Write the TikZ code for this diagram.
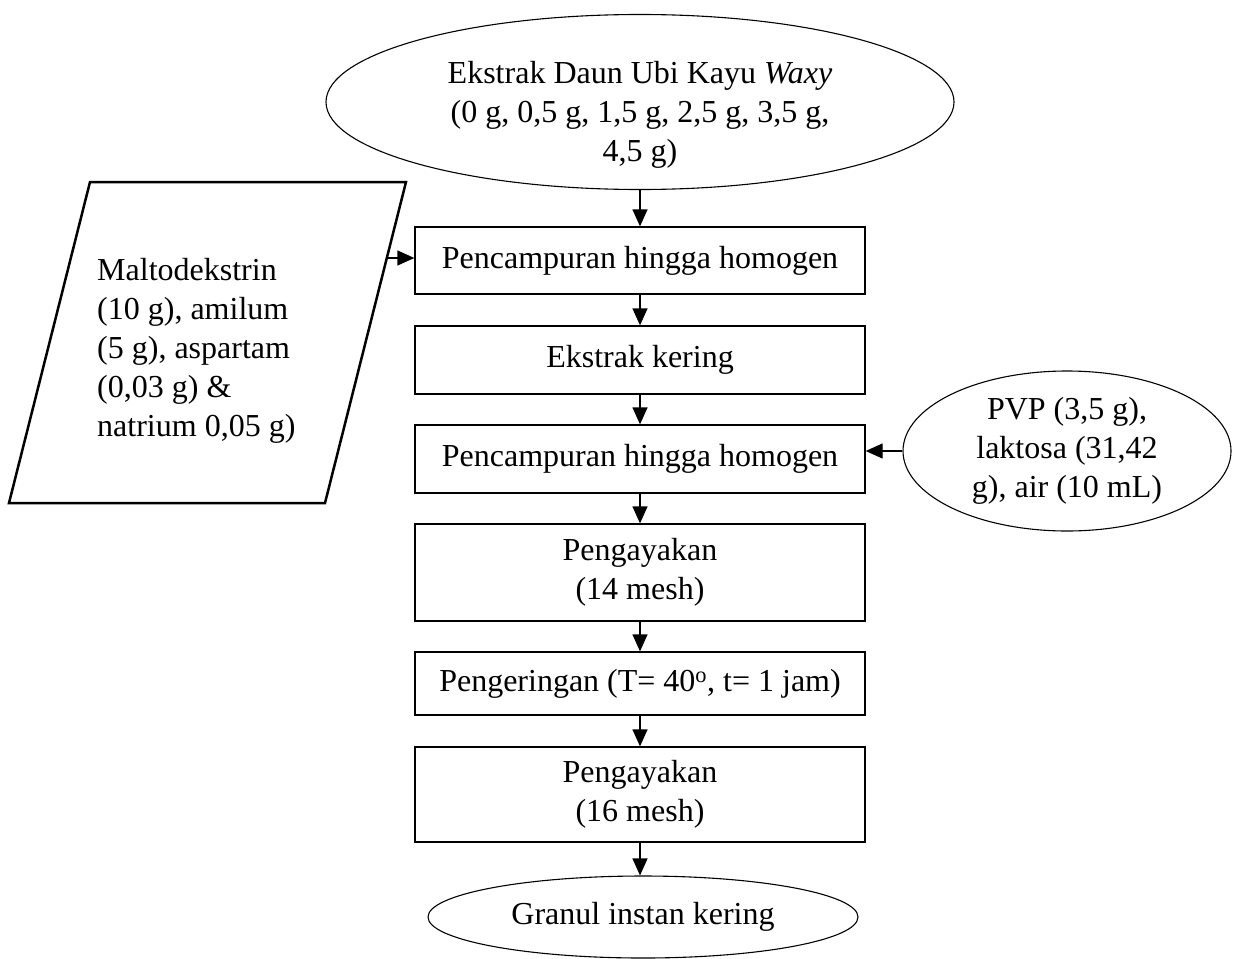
\documentclass[tikz,border=0pt]{standalone}
\usepackage{fontspec}
\setmainfont{Liberation Serif}
\usetikzlibrary{arrows.meta, shapes.geometric, calc}

\begin{document}
\begin{tikzpicture}[x=1pt, y=-1pt, font=\fontsize{32}{39}\selectfont,
    kotak/.style={rectangle, draw, line width=1.3pt, minimum width=450pt, inner sep=0pt, align=center},
    elips/.style={ellipse, draw, line width=1.1pt, inner sep=0pt, align=center},
    panah/.style={-{Triangle[length=17pt, width=15pt]}, line width=1.3pt}]
  \useasboundingbox (0,0) rectangle (1238,958);

  % alur utama
  \node[elips, minimum width=628pt, minimum height=175pt] (ekstrak) at (640,102) {};
  \node[align=center, inner sep=0pt] (ekstraktxt) at (640,115) {Ekstrak Daun Ubi Kayu \textit{Waxy}\\(0 g, 0,5 g, 1,5 g, 2,5 g, 3,5 g,\\4,5 g)};
  \node[kotak, minimum height=67pt] (campur1) at (640,260.5) {Pencampuran hingga homogen};
  \node[kotak, minimum height=68pt] (kering) at (640,360) {Ekstrak kering};
  \node[kotak, minimum height=68pt] (campur2) at (640,459) {Pencampuran hingga homogen};
  \node[kotak, minimum height=97pt] (ayak1) at (640,572.5) {Pengayakan\\(14 mesh)};
  \node[kotak, minimum height=63pt] (oven) at (640,683.5) {Pengeringan (T= 40\textsuperscript{o}, t= 1 jam)};
  \node[kotak, minimum height=95pt] (ayak2) at (640,794.5) {Pengayakan\\(16 mesh)};
  \node[elips, minimum width=430pt, minimum height=82pt] (granul) at (643,917) {Granul instan kering};

  % bahan tambahan
  \draw[line width=2.5pt] (90,182) -- (406,182) -- (325,503) -- (9,503) -- cycle;
  \node[anchor=north west, inner sep=0pt, align=left] (bahan) at (97,258) {Maltodekstrin\\(10 g), amilum\\(5 g), aspartam\\(0,03 g) \&\\natrium 0,05 g)};
  \coordinate (bahanout) at (387,258);
  \node[elips, minimum width=328pt, minimum height=160pt] (pvp) at (1067,451) {PVP (3,5 g),\\laktosa (31,42\\g), air (10 mL)};

  \draw[panah] (ekstrak) -- (campur1);
  \draw[panah] (campur1) -- (kering);
  \draw[panah] (kering) -- (campur2);
  \draw[panah] (campur2) -- (ayak1);
  \draw[panah] (ayak1) -- (oven);
  \draw[panah] (oven) -- (ayak2);
  \draw[panah] (ayak2.south) -- (ayak2.south |- granul.north);
  \draw[panah] (bahanout) -- (bahanout -| campur1.west);
  \draw[panah] (pvp.west) -- (pvp.west -| campur2.east);
\end{tikzpicture}
\end{document}
